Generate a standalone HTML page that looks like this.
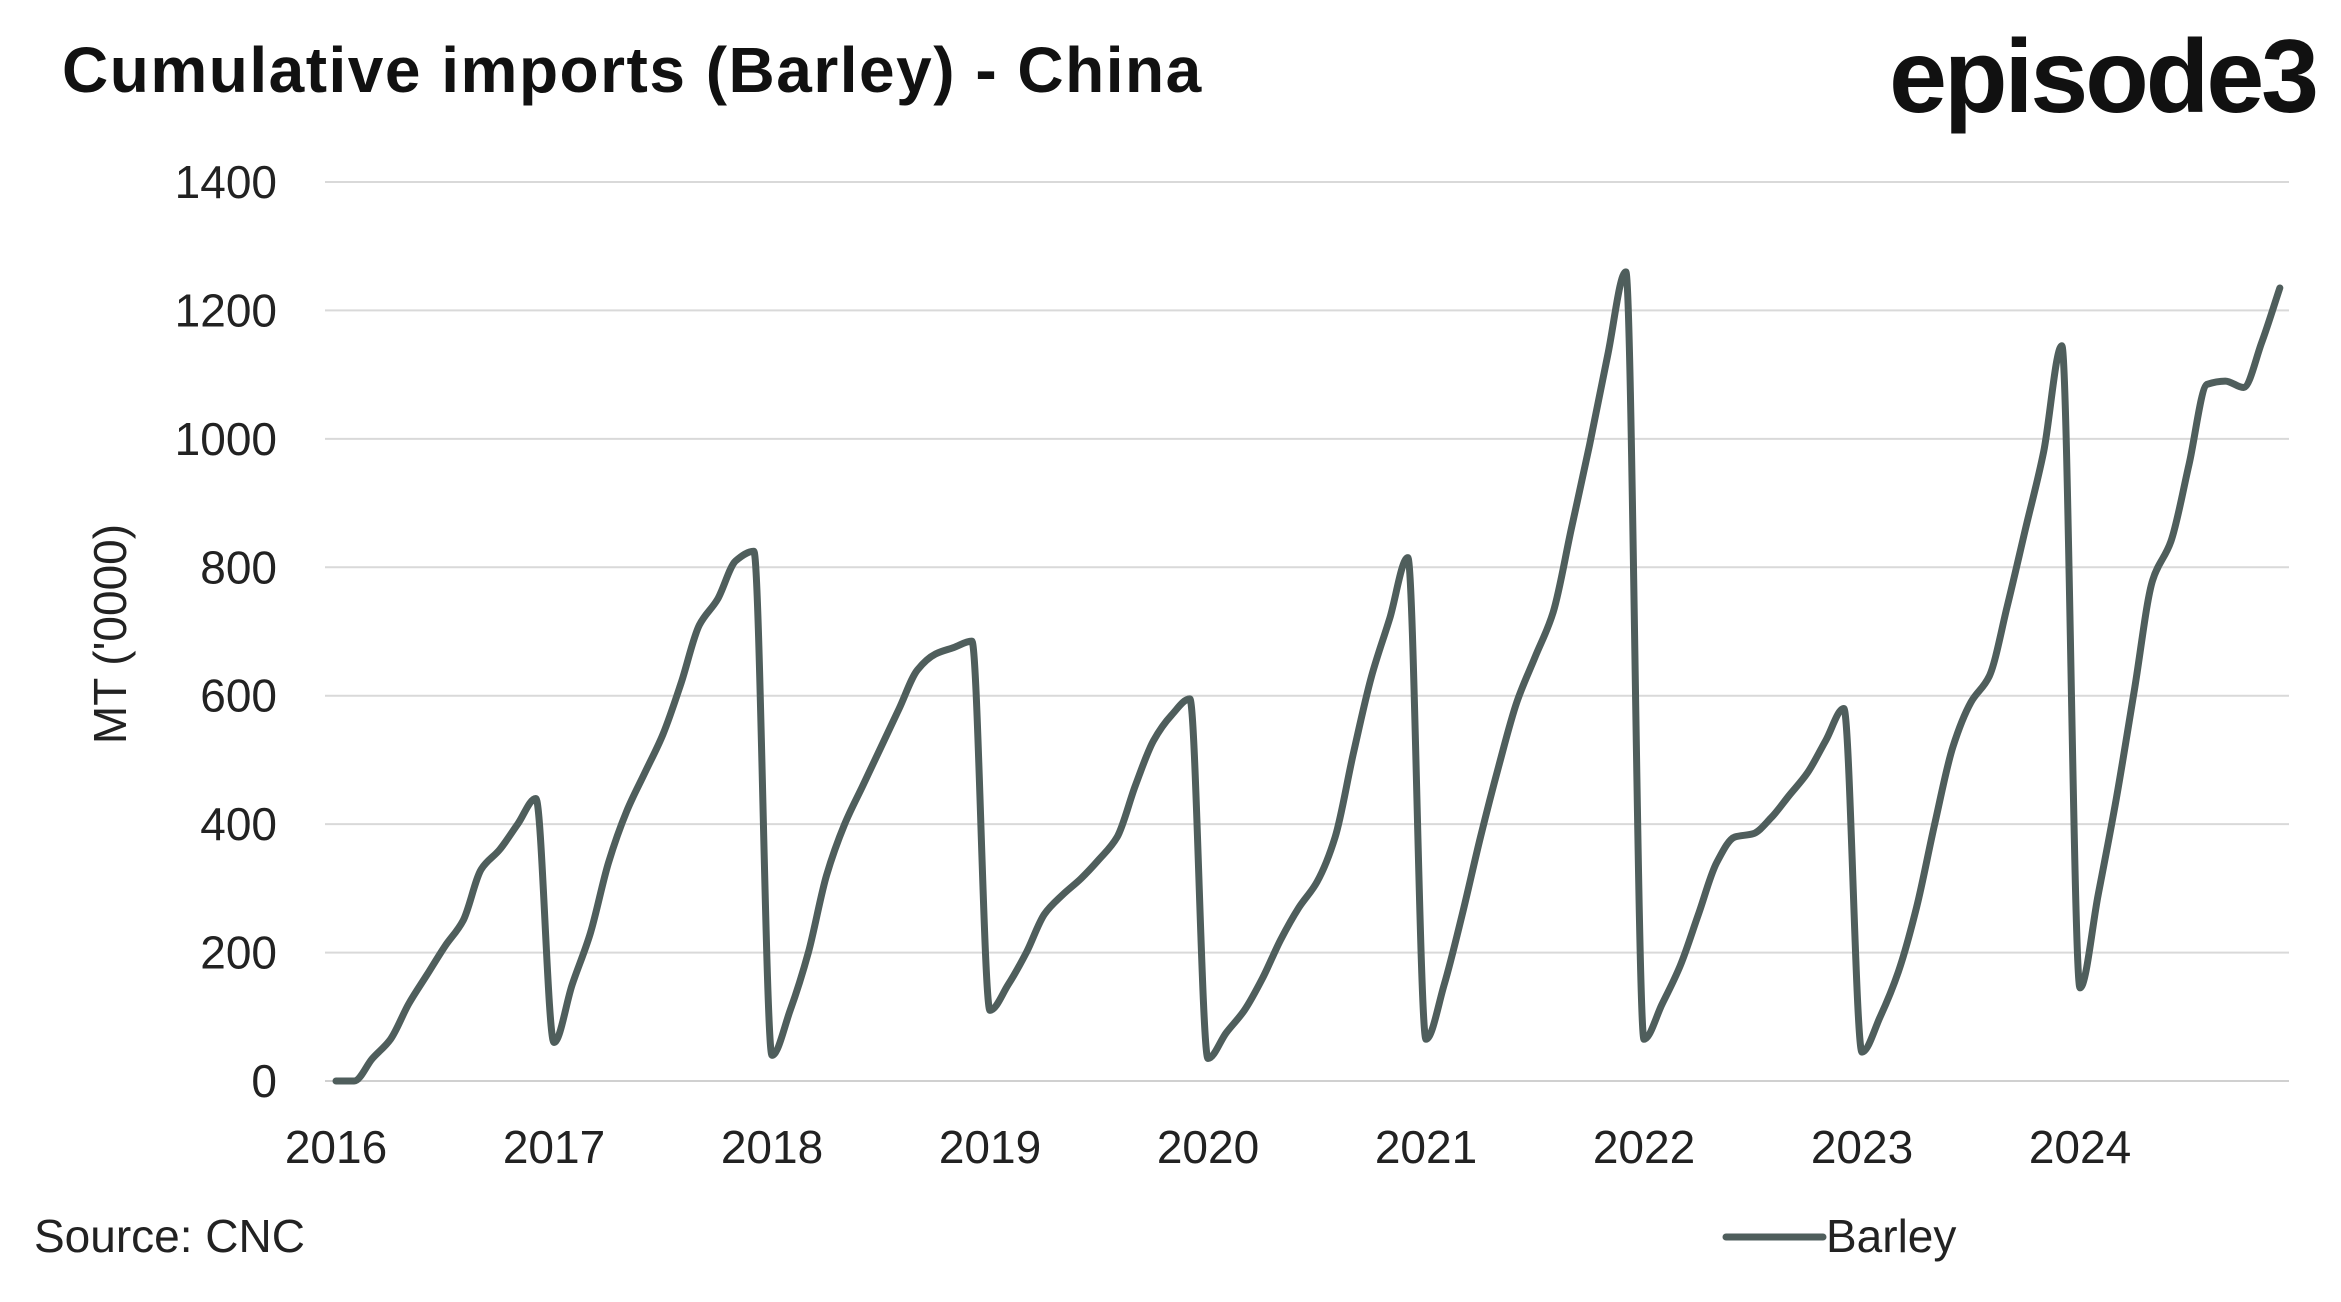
<!DOCTYPE html>
<html><head><meta charset="utf-8"><style>
body{margin:0;background:#fff;}
svg{display:block;font-family:"Liberation Sans",sans-serif;}
</style></head><body>
<svg id="chart" width="2341" height="1302" viewBox="0 0 2341 1302">
<text x="62" y="92" font-size="64" font-weight="bold" fill="#111" letter-spacing="1.5">Cumulative imports (Barley) - China</text>
<text x="2316" y="112" font-size="104" font-weight="bold" fill="#111" text-anchor="end" letter-spacing="-3">episode3</text>
<g id="grid"></g>
<g id="yticks"></g>
<g id="xticks"></g>
<text transform="translate(126,634) rotate(-90)" font-size="46" fill="#222" text-anchor="middle">MT ('0000)</text>
<path id="line" fill="none" stroke="#4f5e5c" stroke-width="7" stroke-linejoin="round" stroke-linecap="round"></path>
<text x="34" y="1252" font-size="46" fill="#222">Source: CNC</text>
<g>
<line x1="1726" y1="1237" x2="1823" y2="1237" stroke="#4f5e5c" stroke-width="7" stroke-linecap="round"/>
<text x="1826" y="1252" font-size="46" fill="#222">Barley</text>
</g>
</svg>
<script>
const years=["2016","2017","2018","2019","2020","2021","2022","2023","2024"];
const yTicks=[0,200,400,600,800,1000,1200,1400];
const v2016=[0,0,35,65,120,165,210,250,330,360,400,440];
const v2017=[60,150,230,340,420,480,540,620,710,750,810,825];
const v2018=[40,110,200,320,400,460,520,580,640,665,675,685];
const v2019=[110,150,200,260,290,315,345,380,460,530,570,595];
const v2020=[35,75,110,160,220,270,310,380,510,630,720,815];
const v2021=[65,150,260,380,490,590,660,730,860,990,1130,1260];
const v2022=[65,120,180,260,340,380,385,410,445,480,530,580];
const v2023=[45,100,170,270,400,520,590,630,740,860,980,1145];
const v2024=[145,290,440,610,780,840,960,1085,1090,1080,1150,1235];
const values=[].concat(v2016,v2017,v2018,v2019,v2020,v2021,v2022,v2023,v2024);
const ns="http://www.w3.org/2000/svg";
const x0=336,yearW=218,y0=1081,yTop=182;
const xs=i=>x0+i*yearW/12;
const ys=v=>y0-(v/1400)*(y0-yTop);
const grid=document.getElementById('grid'),yt=document.getElementById('yticks'),xt=document.getElementById('xticks');
yTicks.forEach(t=>{
 const l=document.createElementNS(ns,'line');
 l.setAttribute('x1',325);l.setAttribute('x2',2289);l.setAttribute('y1',ys(t));l.setAttribute('y2',ys(t));
 l.setAttribute('stroke',t===0?'#d0d0d0':'#d9d9d9');l.setAttribute('stroke-width',2);
 
 
 grid.appendChild(l);
 const tx=document.createElementNS(ns,'text');
 tx.setAttribute('x',277);tx.setAttribute('y',ys(t)+16);tx.setAttribute('text-anchor','end');
 tx.setAttribute('font-size',46);tx.setAttribute('fill','#222');tx.textContent=t;
 
 
 yt.appendChild(tx);
});
years.forEach((y,i)=>{
 const tx=document.createElementNS(ns,'text');
 tx.setAttribute('x',x0+i*yearW);tx.setAttribute('y',1163);tx.setAttribute('text-anchor','middle');
 tx.setAttribute('font-size',46);tx.setAttribute('fill','#222');tx.textContent=y;
 
 
 xt.appendChild(tx);
});
const pts=values.map((v,i)=>[xs(i),ys(v)]);
const n=pts.length,h=pts[1][0]-pts[0][0];
const dl=[];for(let i=0;i<n-1;i++)dl.push((pts[i+1][1]-pts[i][1])/h);
const m=[];
for(let i=0;i<n;i++){
 if(i===0)m.push(dl[0]);else if(i===n-1)m.push(dl[n-2]);
 else if(dl[i-1]*dl[i]<=0)m.push(0);
 else m.push(2/(1/dl[i-1]+1/dl[i]));
}
let d='M'+pts[0][0]+','+pts[0][1];
for(let i=0;i<n-1;i++){
 const p1=pts[i],p2=pts[i+1];
 d+=' C'+(p1[0]+h/3)+','+(p1[1]+m[i]*h/3)+' '+(p2[0]-h/3)+','+(p2[1]-m[i+1]*h/3)+' '+p2[0]+','+p2[1];
}
document.getElementById('line').setAttribute('d',d);
</script>
</body></html>
